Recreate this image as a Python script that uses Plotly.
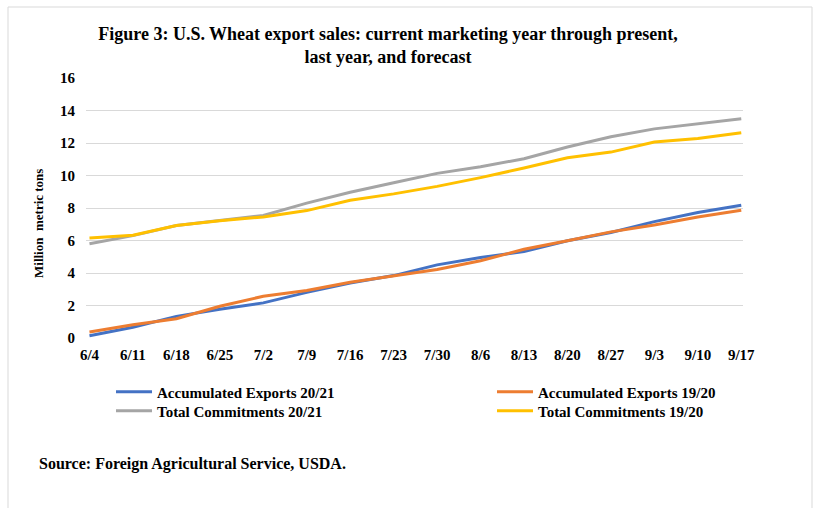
import plotly.graph_objects as go

weeks = ["6/4", "6/11", "6/18", "6/25", "7/2", "7/9", "7/16", "7/23", "7/30",
         "8/6", "8/13", "8/20", "8/27", "9/3", "9/10", "9/17"]
acc_exports_2021 = [0.14, 0.66, 1.33, 1.77, 2.16, 2.81, 3.39, 3.84, 4.50,
                    4.95, 5.32, 5.98, 6.49, 7.16, 7.72, 8.17]
acc_exports_1920 = [0.37, 0.82, 1.19, 1.95, 2.57, 2.92, 3.43, 3.84, 4.22,
                    4.75, 5.46, 5.98, 6.53, 6.96, 7.45, 7.86]
total_comm_2021 = [5.80, 6.30, 6.92, 7.25, 7.54, 8.30, 8.97, 9.55, 10.13,
                   10.54, 11.03, 11.75, 12.38, 12.87, 13.18, 13.49]
total_comm_1920 = [6.16, 6.32, 6.92, 7.22, 7.45, 7.84, 8.48, 8.87, 9.33,
                   9.87, 10.46, 11.09, 11.44, 12.06, 12.28, 12.63]

series = [
    ("Accumulated Exports 20/21", acc_exports_2021, "#4472C4", "legend"),
    ("Accumulated Exports 19/20", acc_exports_1920, "#ED7D31", "legend2"),
    ("Total Commitments 20/21", total_comm_2021, "#A5A5A5", "legend3"),
    ("Total Commitments 19/20", total_comm_1920, "#FFC000", "legend4"),
]

W, H = 817, 508
ML, MR, MT, MB = 86, 74, 78, 170
PW, PH = W - ML - MR, H - MT - MB


def px_x(x):
    return (x - ML) / PW


def px_y(y):
    return (H - MB - y) / PH


FONT = "Liberation Serif, Times New Roman, serif"

fig = go.Figure()
for name, vals, color, leg in series:
    fig.add_trace(go.Scatter(x=weeks, y=vals, mode="lines", name=name,
                             line=dict(color=color, width=3), legend=leg))

leg_font = dict(family=FONT, size=15, color="black", weight="bold")


def legend_at(xp, yp):
    return dict(x=px_x(xp), y=px_y(yp), xanchor="left", yanchor="middle",
                font=leg_font, bgcolor="rgba(0,0,0,0)", borderwidth=0,
                itemwidth=36)


fig.update_layout(
    width=W, height=H,
    margin=dict(l=ML, r=MR, t=MT, b=MB),
    paper_bgcolor="white", plot_bgcolor="white",
    title=dict(text="Figure 3: U.S. Wheat export sales: current marketing year through present,<br>last year, and forecast",
               x=388 / W, xanchor="center", y=1 - 40 / H, yanchor="top",
               font=dict(family=FONT, size=18, color="black", weight="bold")),
    xaxis=dict(type="category", range=[-0.08, 15.04], showgrid=False,
               showline=False, zeroline=False, ticks="",
               tickfont=dict(family=FONT, size=15, color="black", weight="bold"),
               ticklabelstandoff=6),
    yaxis=dict(range=[0, 16], dtick=2, showgrid=True, gridcolor="#d9d9d9",
               gridwidth=1, zeroline=False, showline=False, ticks="",
               tickfont=dict(family=FONT, size=15, color="black", weight="bold"),
               ticklabelstandoff=10),
    legend=legend_at(111, 392),
    legend2=legend_at(492, 392),
    legend3=legend_at(111, 411),
    legend4=legend_at(492, 411),
    showlegend=True,
    annotations=[
        dict(text="Million  metric tons", textangle=-90, x=px_x(38), y=px_y(224),
             xref="paper", yref="paper", showarrow=False, xanchor="center", yanchor="middle",
             font=dict(family=FONT, size=13, color="black", weight="bold")),
        dict(text="Source: Foreign Agricultural Service, USDA.", x=px_x(37), y=px_y(464),
             xref="paper", yref="paper", showarrow=False, xanchor="left", yanchor="middle",
             font=dict(family=FONT, size=16, color="black", weight="bold")),
    ],
    shapes=[
        dict(type="rect", xref="paper", yref="paper",
             x0=px_x(8), x1=px_x(812), y0=px_y(520), y1=px_y(7),
             line=dict(color="#d9d9d9", width=1), fillcolor="rgba(0,0,0,0)", layer="below"),
    ],
)

fig.write_html("out.html")
